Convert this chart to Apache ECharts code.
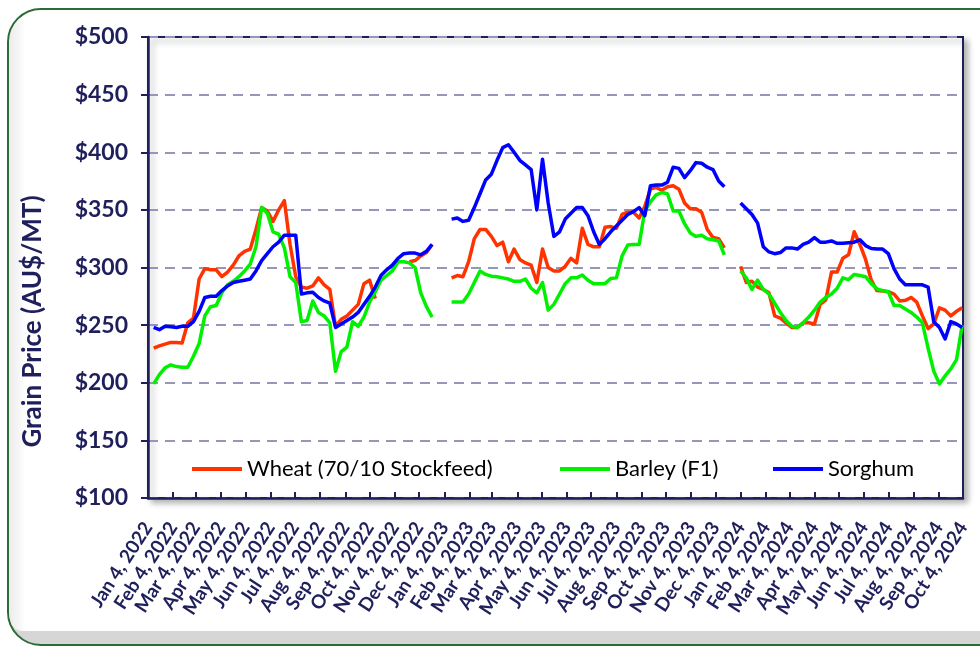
<!DOCTYPE html>
<html>
<head>
<meta charset="utf-8">
<script src="https://cdn.jsdelivr.net/npm/echarts@6/dist/echarts.min.js"></script>
<style>
  html, body { margin: 0; padding: 0; background: #fff; }
  #frame { position: absolute; left: 7px; top: 8px; width: 1010px; height: 634px;
           border: 2.5px solid #2b6b35; border-radius: 34px; background: #d6d6d6; overflow: hidden; }
  #panel { position: absolute; left: 0; top: 0; right: 0; bottom: 13px; border-radius: 32px 0 0 14px;
           background: linear-gradient(to right, #ececec 0px, #f6f6f6 10px, #ffffff 16px); }
  #chart { position: absolute; left: 0; top: 0; width: 980px; height: 648px; }
</style>
</head>
<body>
<div id="frame"><div id="panel"></div></div>
<div id="chart"></div>
<script>
  // weekly prices (AU$/MT), three runs separated by the year-end breaks
  var segStarts = ['2022-01-11', '2023-01-13', '2024-01-04'];

  var wheat2022 = [230, 232, 233.5, 235, 235, 234.5, 252, 256, 290, 299,
    298, 298, 292, 296, 302, 310, 314, 316, 333, 352,
    349, 340, 350, 358, 320, 292, 283, 282, 284, 291,
    285, 281, 249, 255, 258, 263, 268, 286, 289, 273,
    null, null, null, null, null, 305, 306, 310, 313, 320];
  var barley2022 = [199, 207, 213, 215.5, 214, 213.5, 213.5, 223, 234, 258,
    266, 267, 278, 285, 288, 292, 297, 303, 318, 352,
    347, 331, 329, 317, 292, 287, 253, 254, 271, 261,
    258, 252, 210, 227, 231, 253, 249, 257, 270, 279,
    289, 293, 297, 305, 305, 304, 300, 278, 266, 257];
  var sorghum2022 = [248, 246, 249, 248.5, 248, 249, 249, 253, 262, 274,
    275, 275, 280, 284, 287, 288, 289, 290, 297, 306,
    312, 318, 322, 328, 328, 328, 277, 278, 278.5, 274,
    271, 269, 248, 251, 254, 257, 261, 268, 275, 283,
    293, 298, 302, 308, 312, 312.5, 312.5, 311, 314, 320];

  var wheat2023 = [291, 293, 292, 305, 325, 333, 333, 327, 319, 322,
    305, 316, 307, 304, 302, 287, 316, 300, 297, 297,
    301, 308, 304, 334, 320, 318, 318, 335, 335.5, 334,
    346, 348, 348, 343, 353, 368, 369.5, 367, 370, 371,
    368, 356, 351, 351, 348, 333, 326, 325, 317];
  var barley2023 = [270, 270, 270, 277, 287, 297, 294, 292.5, 292, 291,
    290, 288, 288, 290, 282, 278, 287, 263, 268, 277,
    286, 291, 291, 293.5, 289, 286, 286, 286, 290.5, 291,
    310, 319.5, 320, 320, 349, 357, 363, 365, 364, 349,
    349, 338, 330, 327, 328, 325, 324, 323, 311];
  var sorghum2023 = [342, 343, 340, 341, 352, 364, 376, 381, 393, 404,
    406.5, 400, 393, 389, 385, 350, 394, 356, 327, 331,
    342, 347, 352, 352, 345, 331, 320, 325, 331, 336,
    341, 346, 348.5, 352, 345, 371, 371.5, 371.5, 374, 387,
    386, 378, 384, 391, 390.5, 387, 385, 375, 370];

  var wheat2024 = [301, 287, 288, 283, 281, 278, 258, 256, 252, 248,
    248, 252, 252, 251, 268, 272, 296, 296, 308, 311,
    331, 320, 307, 289, 280, 279.5, 279, 277, 271, 271.5,
    274, 270, 258, 247, 251, 265, 263, 258, 262, 265];
  var barley2024 = [297, 291, 281, 289, 281, 277, 269, 261, 254, 249,
    248, 252, 257, 263, 270, 274, 277, 282, 291, 289.5,
    294, 293, 292, 286, 281.5, 280, 279, 267, 267, 264,
    261, 257, 252, 230, 210, 199, 206, 212, 220, 250];
  var sorghum2024 = [356, 351, 346, 338.5, 318, 313.5, 312, 313, 317, 317,
    316, 320, 322, 326, 322, 322, 323, 321, 321, 321.5,
    322, 324, 319, 316.5, 316, 316, 312, 299, 290, 285,
    285, 285, 285, 283, 253, 248, 238, 253, 251, 248];

  var tickDates = ['2022-01-04', '2022-02-04', '2022-03-04', '2022-04-04', '2022-05-04', '2022-06-04',
    '2022-07-04', '2022-08-04', '2022-09-04', '2022-10-04', '2022-11-04', '2022-12-04',
    '2023-01-04', '2023-02-04', '2023-03-04', '2023-04-04', '2023-05-04', '2023-06-04',
    '2023-07-04', '2023-08-04', '2023-09-04', '2023-10-04', '2023-11-04', '2023-12-04',
    '2024-01-04', '2024-02-04', '2024-03-04', '2024-04-04', '2024-05-04', '2024-06-04',
    '2024-07-04', '2024-08-04', '2024-09-04', '2024-10-04'];
  var monthNames = ['Jan', 'Feb', 'Mar', 'Apr', 'May', 'Jun', 'Jul', 'Aug', 'Sep', 'Oct', 'Nov', 'Dec'];

  var seriesNames = ['Wheat (70/10 Stockfeed)', 'Barley (F1)', 'Sorghum'];
  var seriesColors = ['#ff3300', '#00f000', '#0000ff'];

  // x positions are days counted from the first axis date
  var DAY = 24 * 3600 * 1000;
  var base = Date.parse('2022-01-04T00:00:00Z');
  function dayOf(s) { return Math.round((Date.parse(s + 'T00:00:00Z') - base) / DAY); }

  // join the yearly runs, with a null between them so the line breaks
  function buildData(runs) {
    var out = [];
    runs.forEach(function (vals, r) {
      var d0 = dayOf(segStarts[r]);
      vals.forEach(function (v, i) { out.push([d0 + i * 7, v]); });
      if (r < runs.length - 1) out.push([d0 + vals.length * 7, null]);
    });
    return out;
  }

  var allData = [
    buildData([wheat2022, wheat2023, wheat2024]),
    buildData([barley2022, barley2023, barley2024]),
    buildData([sorghum2022, sorghum2023, sorghum2024])
  ];
  var tickDays = tickDates.map(dayOf);

  var navy = '#1f1f5c';
  var font = 'Lato';

  var myChart = echarts.init(document.getElementById('chart'));
  myChart.setOption({
    backgroundColor: 'transparent',
    animation: false,
    grid: {
      left: 148, top: 37, right: 17, bottom: 150,
      show: true, backgroundColor: '#fff',
      borderColor: navy, borderWidth: 2,
      shadowColor: 'rgba(0,0,0,0.3)', shadowBlur: 6, shadowOffsetX: 4, shadowOffsetY: 4
    },
    legend: seriesNames.map(function (n, i) {
      return {
        data: [n], left: [192, 560, 773][i], top: 458, padding: 0,
        icon: 'rect', itemWidth: 50, itemHeight: 4,
        textStyle: { fontFamily: font, fontSize: 22, color: '#000' }
      };
    }),
    xAxis: {
      type: 'value',
      min: 0,
      max: dayOf('2024-10-04'),
      axisLine: { lineStyle: { color: navy, width: 2.5 } },
      axisTick: { show: true, customValues: tickDays, inside: true, length: 6, lineStyle: { color: navy, width: 2 } },
      splitLine: { show: false },
      axisLabel: {
        customValues: tickDays,
        rotate: 57, margin: 26, padding: [8, 0, 0, 0],
        fontFamily: font, fontSize: 19, fontWeight: 'bold', color: navy,
        formatter: function (v) {
          var d = new Date(base + v * DAY);
          return monthNames[d.getUTCMonth()] + ' ' + d.getUTCDate() + ', ' + d.getUTCFullYear();
        }
      }
    },
    yAxis: {
      type: 'value', min: 100, max: 500, interval: 50,
      name: 'Grain Price (AU$/MT)', nameLocation: 'middle', nameRotate: 90, nameGap: 102,
      nameTextStyle: { fontFamily: font, fontSize: 26, fontWeight: 'bold', color: navy, padding: [0, 108, 0, 0] },
      axisLine: { show: true, lineStyle: { color: navy, width: 2.5 } },
      axisTick: { show: true, length: 7, lineStyle: { color: navy, width: 2 } },
      axisLabel: {
        margin: 20, fontFamily: font, fontSize: 23, fontWeight: 'bold', color: navy,
        formatter: function (v) { return '$' + v; }
      },
      splitLine: { lineStyle: { color: '#9696ba', width: 2, type: [10, 7] } }
    },
    series: seriesNames.map(function (n, i) {
      return {
        name: n, type: 'line', data: allData[i],
        showSymbol: false, connectNulls: false,
        color: seriesColors[i],
        lineStyle: { width: 3.5, color: seriesColors[i], join: 'round' }
      };
    })
  });
</script>
</body>
</html>
